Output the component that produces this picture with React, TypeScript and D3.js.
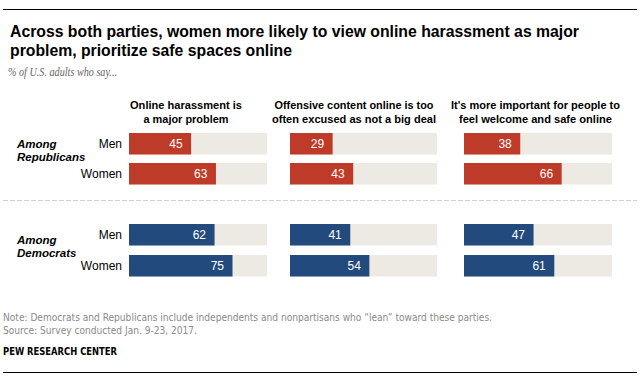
import React from "react";
import * as d3 from "d3";

const questions = [
  ["Online harassment is", "a major problem"],
  ["Offensive content online is too", "often excused as not a big deal"],
  ["It's more important for people to", "feel welcome and safe online"],
];
const groups = ["Among Republicans", "Among Democrats"];
const genders = ["Men", "Women"];
const repMen = [45, 29, 38];
const repWomen = [63, 43, 66];
const demMen = [62, 41, 47];
const demWomen = [75, 54, 61];

const W = 640;
const H = 381;
const panelX = [[129, 267], [290, 437], [464, 612]];
const headerCenters = [186, 354, 535.5];
const headerLens = [[112, 85], [159, 164], [169, 153]];
const rowY = [133, 163, 224, 255];
const groupY = [148, 244];
const barH = 21.5;
const colors = ["#BE3A29", "#234A7C"];
const bg = "#EDEAE3";
const condFont = "'DejaVu Sans Condensed', 'DejaVu Sans', Arial, sans-serif";
const bodyFont = "'Liberation Sans', Arial, sans-serif";

export default function App() {
  const rows = [repMen, repWomen, demMen, demWomen];
  const scales = panelX.map(([a, b]) => d3.scaleLinear().domain([0, 100]).range([a, b]));
  return (
    <svg width={W} height={H} style={{ position: "absolute", left: 0, top: 0, background: "#fff" }}>
      <line x1={3} x2={637} y1={9.5} y2={9.5} stroke="#000" strokeWidth={1.2} />
      <text x={10} y={37} fontFamily={bodyFont} fontWeight="bold" fontSize={16.5} fill="#000" textLength={569} lengthAdjust="spacingAndGlyphs">
        Across both parties, women more likely to view online harassment as major
      </text>
      <text x={10} y={55.5} fontFamily={bodyFont} fontWeight="bold" fontSize={16.5} fill="#000" textLength={282} lengthAdjust="spacingAndGlyphs">
        problem, prioritize safe spaces online
      </text>
      <text x={8} y={76} fontFamily="'Liberation Serif', 'DejaVu Serif', Georgia, serif" fontStyle="italic" fontSize={12.5} fill="#666" textLength={109} lengthAdjust="spacingAndGlyphs">
        % of U.S. adults who say...
      </text>
      {questions.map((q, i) => (
        <g key={i}>
          {q.map((line, j) => (
            <text key={j} x={headerCenters[i]} y={109 + j * 13.5} textAnchor="middle" fontFamily={bodyFont} fontWeight="bold" fontSize={11.5} fill="#000" textLength={headerLens[i][j]} lengthAdjust="spacingAndGlyphs">
              {line}
            </text>
          ))}
        </g>
      ))}
      {groups.map((g, gi) => {
        const words = g.split(" ");
        return (
          <text key={g} x={17} y={groupY[gi]} fontFamily={bodyFont} fontWeight="bold" fontStyle="italic" fontSize={11.5} fill="#000">
            <tspan x={17}>{words[0]}</tspan>
            <tspan x={17} dy={12.5}>{words[1]}</tspan>
          </text>
        );
      })}
      <line x1={3} x2={637} y1={200.5} y2={200.5} stroke="#d0d0d0" strokeDasharray="5,2" strokeWidth={1} />
      {rows.map((vals, ri) => (
        <g key={ri}>
          <text x={122} y={rowY[ri] + barH / 2 + 4} textAnchor="end" fontFamily={bodyFont} fontSize={12} fill="#000">
            {genders[ri % 2]}
          </text>
          {vals.map((v, ci) => {
            const s = scales[ci];
            return (
              <g key={ci}>
                <rect x={s(0)} y={rowY[ri]} width={s(100) - s(0)} height={barH} fill={bg} />
                <rect x={s(0)} y={rowY[ri]} width={s(v) - s(0)} height={barH} fill={colors[Math.floor(ri / 2)]} />
                <text x={s(v) - 8.5} y={rowY[ri] + barH / 2 + 4} textAnchor="end" fontFamily={bodyFont} fontSize={12} fill="#fff">
                  {v}
                </text>
              </g>
            );
          })}
        </g>
      ))}
      <text x={3} y={321} fontFamily={condFont} fontStretch="condensed" fontSize={10.5} fill="#8a8a8a" textLength={489} lengthAdjust="spacingAndGlyphs">
        Note: Democrats and Republicans include independents and nonpartisans who “lean” toward these parties.
      </text>
      <text x={3} y={334} fontFamily={condFont} fontStretch="condensed" fontSize={10.5} fill="#8a8a8a" textLength={194} lengthAdjust="spacingAndGlyphs">
        Source: Survey conducted Jan. 9-23, 2017.
      </text>
      <text x={3} y={355} fontFamily={condFont} fontStretch="condensed" fontWeight="bold" fontSize={10} fill="#000" textLength={114} lengthAdjust="spacingAndGlyphs">
        PEW RESEARCH CENTER
      </text>
      <line x1={3} x2={637} y1={372.5} y2={372.5} stroke="#000" strokeWidth={1.2} />
    </svg>
  );
}
